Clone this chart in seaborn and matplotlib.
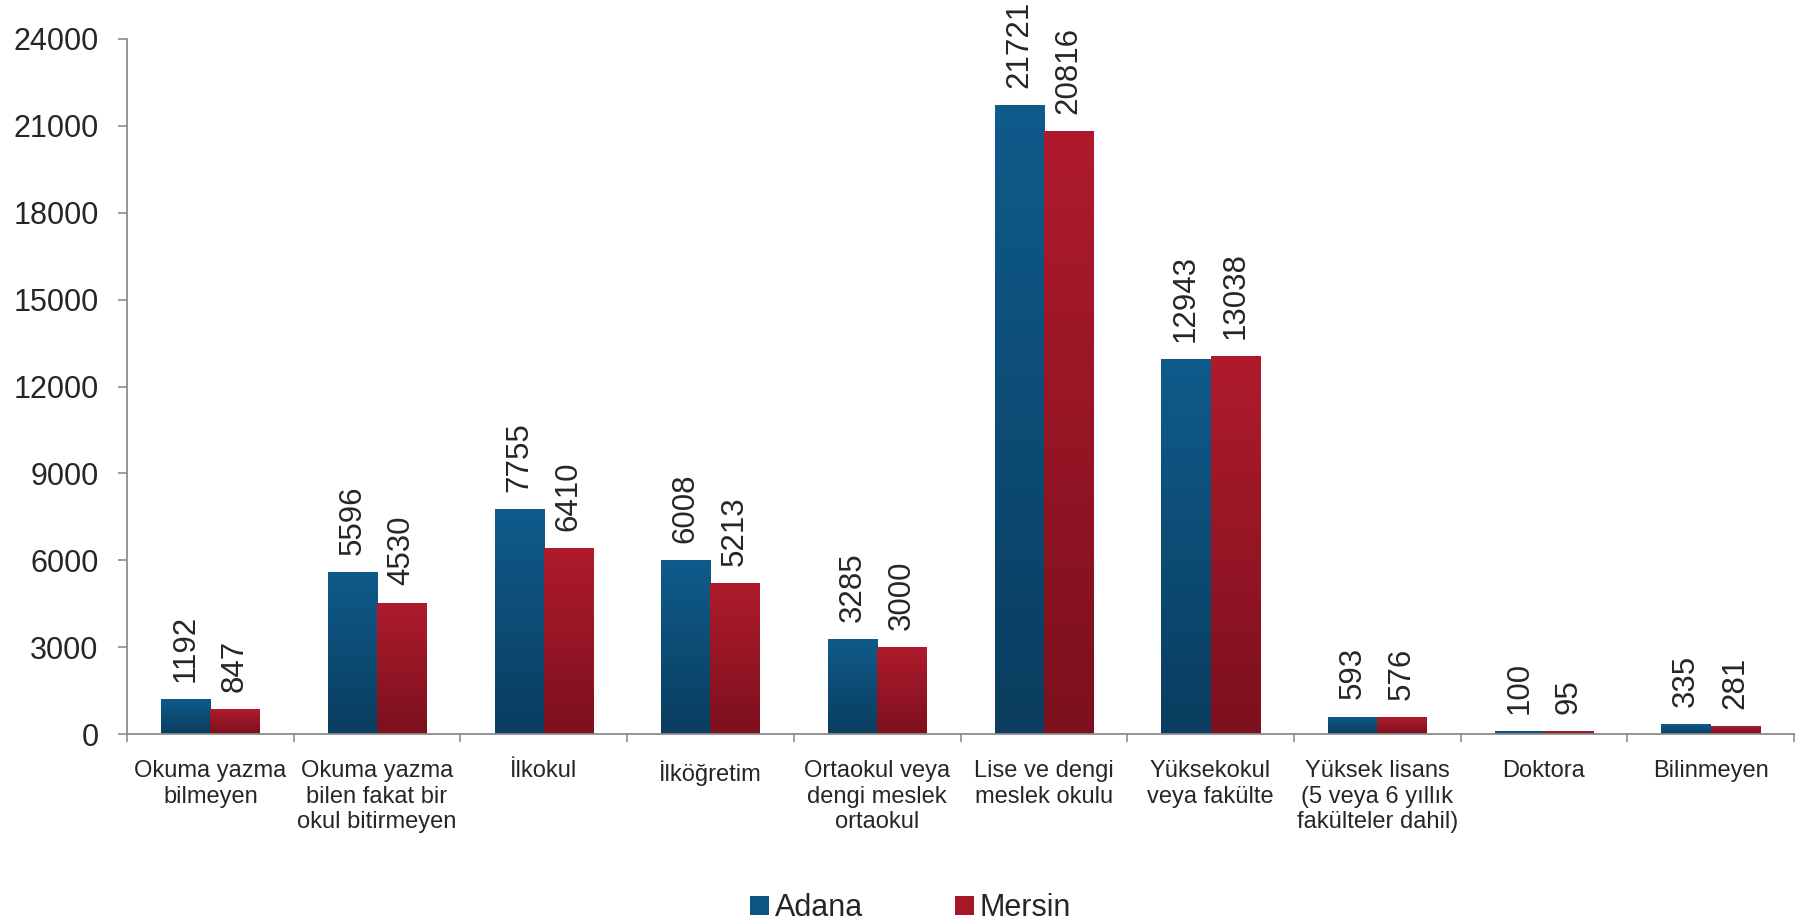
import numpy as np
import pandas as pd
import matplotlib
matplotlib.use("Agg")
import matplotlib.pyplot as plt
import seaborn as sns
from matplotlib.colors import LinearSegmentedColormap
from matplotlib.patches import Patch

categories = [
    "Okuma yazma\nbilmeyen",
    "Okuma yazma\nbilen fakat bir\nokul bitirmeyen",
    "İlkokul",
    "İlköğretim",
    "Ortaokul veya\ndengi meslek\nortaokul",
    "Lise ve dengi\nmeslek okulu",
    "Yüksekokul\nveya fakülte",
    "Yüksek lisans\n(5 veya 6 yıllık\nfakülteler dahil)",
    "Doktora",
    "Bilinmeyen",
]
adana = [1192, 5596, 7755, 6008, 3285, 21721, 12943, 593, 100, 335]
mersin = [847, 4530, 6410, 5213, 3000, 20816, 13038, 576, 95, 281]
series_names = ["Adana", "Mersin"]
yticks = list(range(0, 24001, 3000))

colors = {"Adana": "#0d5483", "Mersin": "#a51828"}
grad = {"Adana": ("#0f5b8b", "#0a3d5f"), "Mersin": ("#af1b2c", "#7c101e")}

df = pd.DataFrame({
    "cat": categories * 2,
    "value": adana + mersin,
    "city": [series_names[0]] * len(categories) + [series_names[1]] * len(categories),
})

sns.set_style("white")
plt.rcParams["font.family"] = ["Liberation Sans", "DejaVu Sans"]

fig = plt.figure(figsize=(17.96, 9.23), dpi=100)
ax = fig.add_axes([127 / 1796, 1 - 734 / 923, (1794 - 127) / 1796, (734 - 39) / 923])

sns.barplot(data=df, x="cat", y="value", hue="city", palette=colors,
            width=0.59, ax=ax, legend=False, saturation=1, edgecolor="none")

# gradient fill clipped to each bar
for cont, name in zip(ax.containers, series_names):
    cmap = LinearSegmentedColormap.from_list(name, [grad[name][1], grad[name][0]])
    for bar in cont:
        x0, y0 = bar.get_x(), bar.get_y()
        w, h = bar.get_width(), bar.get_height()
        g = np.linspace(0, 1, 256).reshape(-1, 1)
        im = ax.imshow(g, extent=[x0, x0 + w, y0, y0 + h], origin="lower",
                       cmap=cmap, aspect="auto", zorder=bar.get_zorder() + 0.1)
        im.set_clip_path(bar)
    ax.bar_label(cont, labels=[str(int(v)) for v in cont.datavalues],
                 padding=12.5, rotation=90, fontsize=22.5)

ax.set_xlim(-0.5, len(categories) - 0.5)
ax.set_ylim(0, 24000)
ax.set_yticks(yticks)
ax.set_yticklabels([str(t) for t in yticks], fontsize=22)
ax.tick_params(axis="y", length=6.5, width=1.2, color="#8c8c8c", pad=14, left=True)

ax.set_xticks(np.arange(-0.5, len(categories), 1.0))
ax.set_xticklabels([])
ax.set_xticks(np.arange(len(categories)), minor=True)
ax.set_xticklabels(categories, minor=True, fontsize=17, linespacing=1.2)
ax.tick_params(axis="x", which="major", length=5.5, width=1.2, color="#8c8c8c", bottom=True)
ax.tick_params(axis="x", which="minor", length=0, pad=19)

ax.set_xlabel("")
ax.set_ylabel("")
for s in ["top", "right"]:
    ax.spines[s].set_visible(False)
for s in ["left", "bottom"]:
    ax.spines[s].set_color("#8c8c8c")
    ax.spines[s].set_linewidth(1.3)
ax.grid(False)

handles = [Patch(facecolor=colors[n], edgecolor="none") for n in series_names]
fig.legend(handles, series_names, loc="center", bbox_to_anchor=(0.507, 0.016),
           ncol=2, frameon=False, fontsize=22, handlelength=0.62, handleheight=0.62,
           handletextpad=0.2, columnspacing=3.0)

fig.savefig("out.png", dpi=100)
